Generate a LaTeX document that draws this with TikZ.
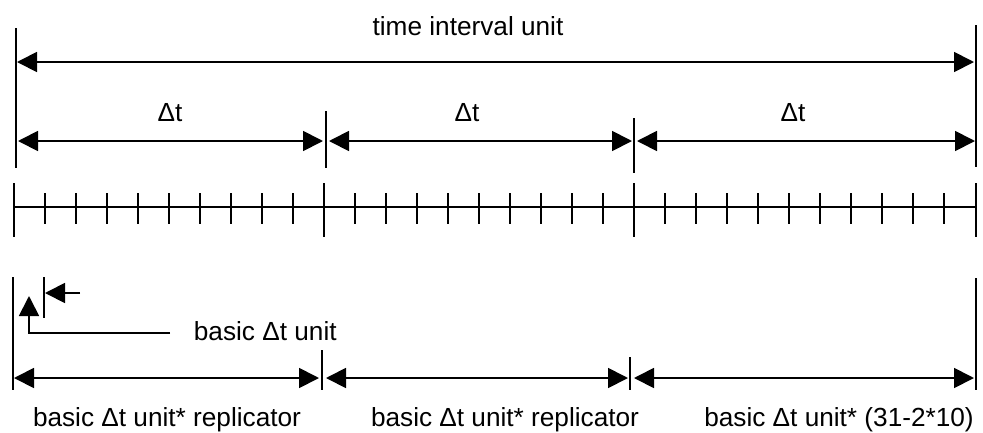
\documentclass[tikz,border=0pt]{standalone}
\usepackage{fontspec}
\setmainfont{Liberation Sans}
\usetikzlibrary{arrows.meta}
\begin{document}
\begin{tikzpicture}[x=1pt,y=-1pt,
    line width=1.8pt,
    head/.style={-{Triangle[length=20pt,width=20pt]}},
    dim/.style={{Triangle[length=20pt,width=20pt]}-{Triangle[length=20pt,width=20pt]}},
    lbl/.style={inner sep=0pt,anchor=base,font=\fontsize{26.2}{30}\selectfont},
    bar/.style={line width=1.8pt}]
  \useasboundingbox (0,0) rectangle (983,432);

  % --- whole interval ---
  \coordinate (tl0) at (16,28);   \coordinate (tl1) at (16,168);
  \coordinate (tr0) at (976,25);  \coordinate (tr1) at (976,167);
  \draw[bar] (tl0) -- (tl1);
  \draw[bar] (tr0) -- (tr1);
  \coordinate (tA) at (17,62); \coordinate (tB) at (974,62);
  \draw[dim] (tA) -- (tB);
  \node[lbl] (ttl) at (468,35) {time interval unit};

  % --- three delta-t spans ---
  \coordinate (d1a) at (326,111); \coordinate (d1b) at (326,168);
  \coordinate (d2a) at (634,118); \coordinate (d2b) at (634,173);
  \draw[bar] (d1a) -- (d1b);
  \draw[bar] (d2a) -- (d2b);
  \coordinate (s1a) at (18,141);  \coordinate (s1b) at (323,141);
  \coordinate (s2a) at (329,141); \coordinate (s2b) at (632,141);
  \coordinate (s3a) at (637,141); \coordinate (s3b) at (975,141);
  \draw[dim] (s1a) -- (s1b);
  \draw[dim] (s2a) -- (s2b);
  \draw[dim] (s3a) -- (s3b);
  \node[lbl] (dt1) at (170,121) {Δt};
  \node[lbl] (dt2) at (467,121) {Δt};
  \node[lbl] (dt3) at (793,121) {Δt};

  % --- time axis with 31 basic units ---
  \coordinate (ax0) at (14,207); \coordinate (ax1) at (976,207);
  \draw[bar] (ax0) -- (ax1);
  \foreach \i in {0,...,31}{
    \pgfmathsetmacro{\xx}{14+31*\i}
    \ifnum\i=0 \draw[bar] (\xx,183) -- (\xx,237);
    \else\ifnum\i=10 \draw[bar] (\xx,183) -- (\xx,237);
    \else\ifnum\i=20 \draw[bar] (\xx,183) -- (\xx,237);
    \else\ifnum\i=31 \draw[bar] (976,183) -- (976,237);
    \else \draw[bar] (\xx,193) -- (\xx,224);
    \fi\fi\fi\fi
  }

  % --- basic unit marker ---
  \coordinate (bl0) at (13,277);  \coordinate (bl1) at (13,390);
  \coordinate (br0) at (976,278); \coordinate (br1) at (976,390);
  \draw[bar] (bl0) -- (bl1);
  \draw[bar] (br0) -- (br1);
  \coordinate (u0) at (44,277); \coordinate (u1) at (44,318);
  \draw[bar] (u0) -- (u1);
  \coordinate (ua) at (80,293); \coordinate (ub) at (45,293);
  \draw[head] (ua) -- (ub);
  \node[lbl,anchor=base west] (bu) at (193,340) {basic Δt unit};
  \coordinate (ue) at (170,333); \coordinate (uc) at (29,333); \coordinate (ut) at (29,296);
  \draw[head] (ue) -- (uc) -- (ut);

  % --- replicated spans ---
  \coordinate (e1a) at (322,350); \coordinate (e1b) at (322,390);
  \coordinate (e2a) at (630,357); \coordinate (e2b) at (630,390);
  \draw[bar] (e1a) -- (e1b);
  \draw[bar] (e2a) -- (e2b);
  \coordinate (r1a) at (14,378);  \coordinate (r1b) at (319,378);
  \coordinate (r2a) at (326,378); \coordinate (r2b) at (628,378);
  \coordinate (r3a) at (634,378); \coordinate (r3b) at (974,378);
  \draw[dim] (r1a) -- (r1b);
  \draw[dim] (r2a) -- (r2b);
  \draw[dim] (r3a) -- (r3b);
  \node[lbl] (rep1) at (167,426) {basic Δt unit* replicator};
  \node[lbl] (rep2) at (505,426) {basic Δt unit* replicator};
  \node[lbl] (rep3) at (839,426) {basic Δt unit* (31-2*10)};
\end{tikzpicture}
\end{document}
